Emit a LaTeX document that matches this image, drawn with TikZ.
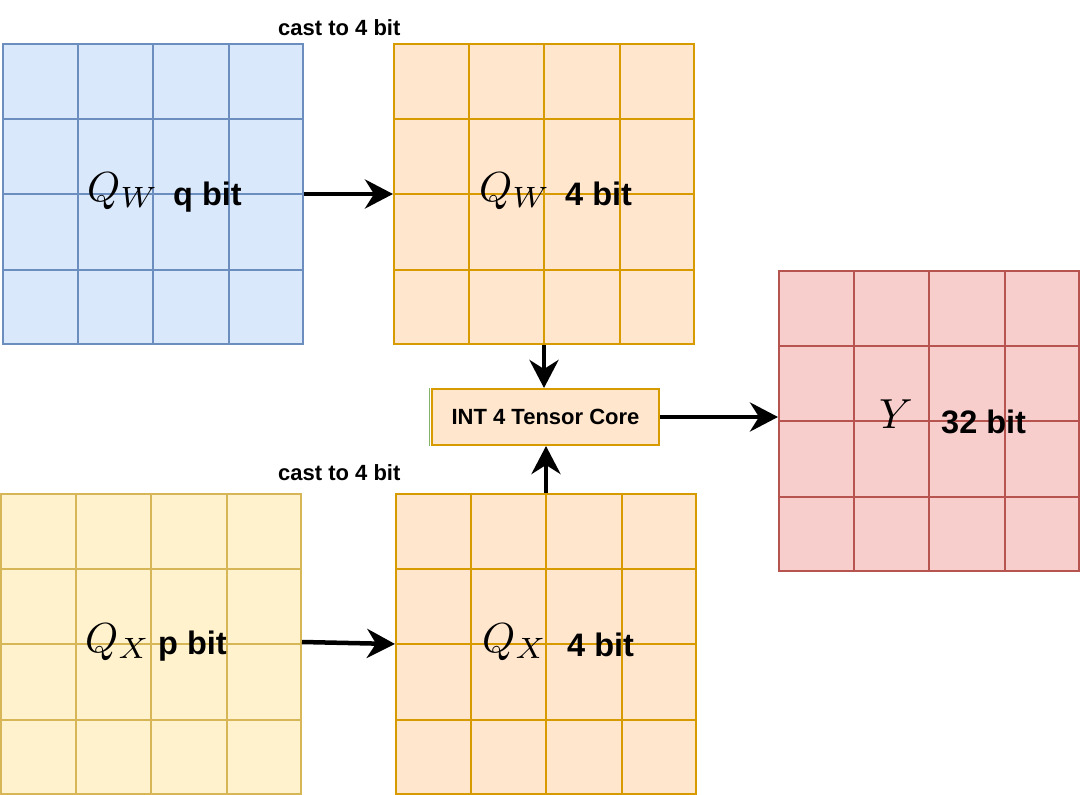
\documentclass[tikz,border=0pt]{standalone}
\usepackage{graphicx}
\usepackage{fontspec}
\newfontfamily\lsans{Liberation Sans}
\usetikzlibrary{arrows.meta,calc}
\definecolor{blueF}{HTML}{DAE8FC}\definecolor{blueD}{HTML}{6C8EBF}
\definecolor{orF}{HTML}{FFE6CC}\definecolor{orD}{HTML}{D79B00}
\definecolor{yeF}{HTML}{FFF2CC}\definecolor{yeD}{HTML}{D6B656}
\definecolor{reF}{HTML}{F8CECC}\definecolor{reD}{HTML}{B85450}
\definecolor{grD}{HTML}{82B366}
\newcommand\bigmath[1]{\scalebox{4.2}{$#1$}}
\begin{document}
\begin{tikzpicture}[x=1pt,y=-1pt,
  matbox/.style={draw, rectangle, minimum width=300pt, minimum height=300pt, inner sep=0pt, line width=2pt},
  conn/.style={line width=4.5pt, -{Stealth[length=28pt,width=29pt,inset=9pt]}},
  lbl/.style={anchor=base west, inner sep=0pt, font=\lsans\bfseries\fontsize{32.5}{36}\selectfont},
  small/.style={anchor=base west, inner sep=0pt, font=\lsans\bfseries\fontsize{22}{26}\selectfont},
  mth/.style={anchor=base west, inner sep=0pt}]
\useasboundingbox (0,0) rectangle (1080,795);
\newcommand\gridlines[2]{%
  \foreach \i in {1,2,3}{%
    \draw[#2, line width=2pt] ($(#1.north west)!\i/4!(#1.north east)$) -- ($(#1.south west)!\i/4!(#1.south east)$);
    \draw[#2, line width=2pt] ($(#1.north west)!\i/4!(#1.south west)$) -- ($(#1.north east)!\i/4!(#1.south east)$);
  }}
\node[matbox, fill=blueF, draw=blueD] (qw) at (153,194) {};
\gridlines{qw}{blueD}
\node[matbox, fill=orF, draw=orD] (qw4) at (544,194) {};
\gridlines{qw4}{orD}
\node[matbox, fill=yeF, draw=yeD] (qx) at (151,644) {};
\gridlines{qx}{yeD}
\node[matbox, fill=orF, draw=orD] (qx4) at (546,644) {};
\gridlines{qx4}{orD}
\node[matbox, fill=reF, draw=reD] (y) at (929,421) {};
\gridlines{y}{reD}
\node[draw=orD, fill=orF, line width=2pt, minimum width=227pt, minimum height=56pt, inner sep=0pt,
      font=\lsans\bfseries\fontsize{22}{26}\selectfont] (tc) at (545.5,417) {INT 4 Tensor Core};
\draw[grD, line width=1pt] ([xshift=-1.3pt]tc.north west) -- ([xshift=-1.3pt]tc.south west);
% labels
\node[mth] (lqw) at (87,201) {\bigmath{Q_W}};
\node[lbl] (tqw) at (173,205) {q bit};
\node[mth] (lqw4) at (479,201) {\bigmath{Q_W}};
\node[lbl] (tqw4) at (565,205) {4 bit};
\node[mth] (lqx) at (85,652) {\bigmath{Q_X}};
\node[lbl] (tqx) at (158,654) {p bit};
\node[mth] (lqx4) at (482,652) {\bigmath{Q_X}};
\node[lbl] (tqx4) at (567,656) {4 bit};
\node[mth] (ly) at (879,428) {\bigmath{Y}};
\node[lbl] (ty) at (941,433) {32 bit};
\node[small] (c1) at (278,35) {cast to 4 bit};
\node[small] (c2) at (278,480) {cast to 4 bit};
% connectors
\draw[conn] (qw.east) -- (qw4.west);
\draw[conn] ([yshift=2pt]qx.east) -- (qx4.west);
\draw[conn] (qw4.south) -- (qw4.south |- tc.north);
\draw[conn] (qx4.north) -- (qx4.north |- tc.south);
\draw[conn] (tc.east) -- (tc.east -| y.west);
\end{tikzpicture}
\end{document}
